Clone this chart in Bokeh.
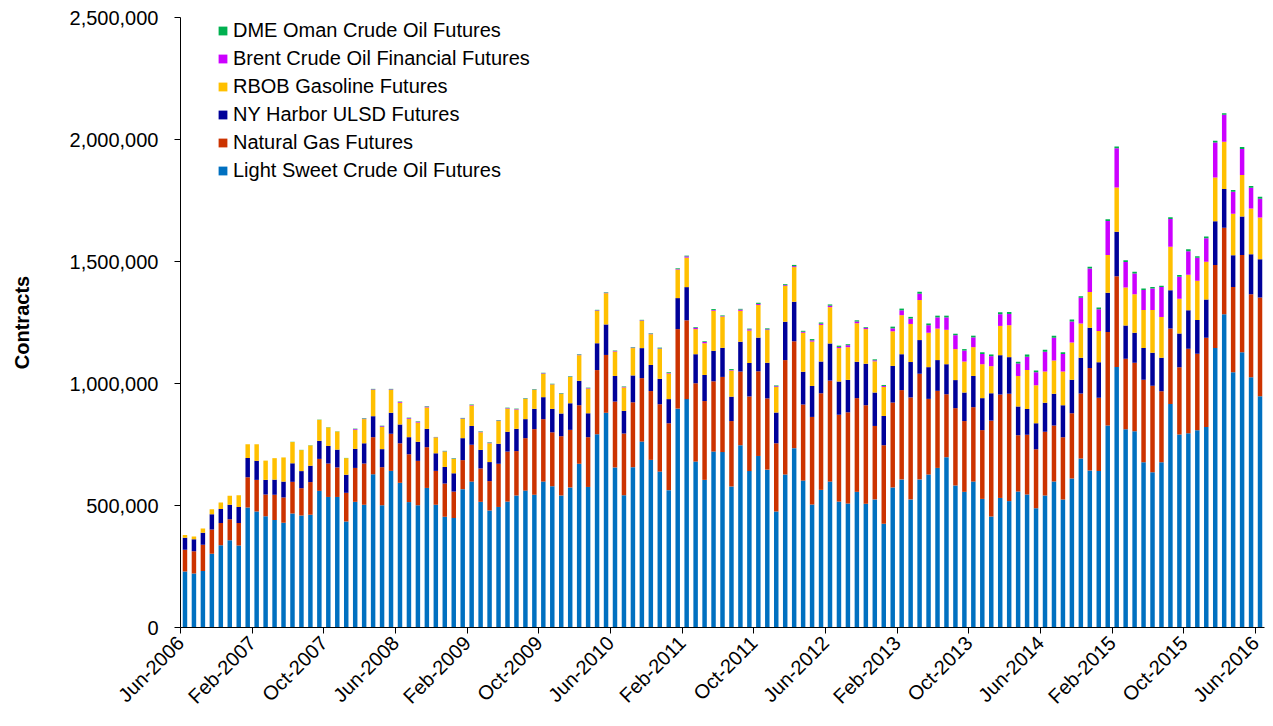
import math
import pandas as pd
from bokeh.plotting import figure
from bokeh.models import (ColumnDataSource, Range1d, FixedTicker, NumeralTickFormatter,
                          Legend, LegendItem)
from bokeh.embed import file_html
from bokeh.resources import INLINE

# ---------------- data (thousands of contracts, monthly Jun-2006 .. Jun-2016) -------------
months = [d.strftime("%b-%Y") for d in pd.date_range("2006-06-01", "2016-06-01", freq="MS")]

tick_labels = ["Jun-2006", "Feb-2007", "Oct-2007", "Jun-2008", "Feb-2009", "Oct-2009",
               "Jun-2010", "Feb-2011", "Oct-2011", "Jun-2012", "Feb-2013", "Oct-2013",
               "Jun-2014", "Feb-2015", "Oct-2015", "Jun-2016"]
y_ticks = [0, 500000, 1000000, 1500000, 2000000, 2500000]

light_sweet = [230, 221, 232, 302, 337, 358, 336, 492, 475, 456, 441, 429, 467, 459, 462, 560,
               535, 535, 434, 515, 503, 628, 501, 642, 593, 514, 501, 572, 503, 454, 449, 567,
               598, 515, 479, 494, 516, 541, 561, 544, 598, 579, 541, 574, 671, 576, 792, 880,
               656, 542, 657, 762, 687, 639, 563, 897, 936, 680, 605, 721, 719, 578, 747, 641,
               703, 647, 475, 627, 735, 602, 504, 564, 598, 516, 508, 556, 507, 525, 425, 574,
               607, 525, 607, 627, 654, 698, 582, 556, 598, 527, 455, 531, 518, 557, 545, 489,
               541, 598, 525, 611, 693, 643, 641, 828, 1068, 812, 804, 677, 636, 677, 916, 791,
               796, 808, 822, 1145, 1284, 1046, 1128, 1026, 948]
natural_gas = [89, 92, 107, 100, 91, 86, 92, 124, 130, 89, 103, 104, 130, 112, 134, 131,
               137, 121, 118, 139, 169, 152, 156, 152, 162, 196, 182, 167, 139, 136, 108, 119,
               151, 137, 121, 177, 205, 182, 215, 269, 256, 221, 243, 236, 240, 204, 263, 237,
               270, 253, 266, 260, 282, 276, 274, 326, 323, 321, 323, 288, 308, 268, 302, 306,
               347, 292, 280, 469, 438, 312, 359, 396, 414, 356, 374, 384, 404, 301, 322, 348,
               366, 418, 433, 310, 316, 258, 317, 290, 305, 282, 393, 424, 440, 231, 245, 242,
               261, 230, 255, 267, 266, 421, 301, 383, 372, 289, 281, 338, 355, 291, 309, 276,
               346, 314, 365, 341, 354, 350, 399, 340, 404]
ny_harbor = [49, 49, 49, 62, 58, 59, 66, 79, 78, 60, 62, 65, 76, 70, 67, 74,
             72, 73, 74, 78, 83, 86, 74, 86, 77, 70, 78, 75, 72, 68, 75, 90,
             77, 76, 78, 82, 81, 91, 78, 83, 90, 96, 93, 109, 100, 98, 110, 125,
             105, 93, 110, 123, 107, 104, 99, 127, 136, 119, 107, 125, 119, 100, 122, 137,
             138, 146, 126, 157, 162, 134, 127, 130, 152, 136, 133, 149, 170, 137, 120, 150,
             147, 145, 138, 130, 126, 123, 115, 117, 128, 131, 112, 161, 150, 118, 106, 106,
             119, 130, 131, 137, 147, 164, 145, 161, 182, 137, 123, 130, 135, 138, 157, 138,
             158, 138, 157, 179, 159, 130, 157, 164, 157]
rbob = [11, 11, 18, 21, 26, 37, 48, 56, 68, 79, 88, 99, 87, 86, 83, 86,
        76, 74, 68, 78, 99, 108, 91, 94, 89, 75, 79, 88, 65, 63, 59, 79,
        84, 72, 77, 93, 95, 79, 83, 78, 96, 100, 81, 108, 105, 101, 133, 128,
        100, 96, 112, 112, 126, 123, 105, 117, 121, 103, 130, 164, 128, 107, 127, 133,
        134, 134, 105, 147, 142, 160, 182, 150, 149, 137, 134, 158, 142, 128, 119, 142,
        160, 156, 164, 141, 129, 141, 127, 127, 118, 139, 111, 120, 131, 125, 159, 156,
        128, 136, 138, 153, 140, 147, 128, 155, 181, 155, 158, 156, 175, 167, 178, 142,
        146, 161, 155, 179, 194, 170, 171, 187, 171]
brent = [0, 0, 0, 0, 0, 0, 0, 0, 0, 0, 0, 0, 0, 0, 0, 0,
         0, 0, 0, 3, 2, 2, 3, 2, 3, 3, 3, 3, 1, 1, 1, 2,
         2, 2, 2, 2, 2, 2, 1, 1, 2, 1, 1, 1, 2, 2, 2, 2,
         2, 2, 2, 2, 2, 2, 2, 2, 5, 5, 5, 3, 2, 2, 5, 5,
         4, 3, 3, 3, 4, 4, 5, 5, 6, 5, 8, 7, 5, 4, 4, 12,
         20, 22, 26, 31, 46, 51, 57, 45, 40, 42, 41, 48, 46, 51, 55, 53,
         81, 94, 72, 86, 105, 96, 89, 139, 161, 105, 85, 82, 88, 122, 114, 91,
         96, 94, 96, 144, 110, 90, 106, 85, 77]
dme_oman = [0, 0, 0, 0, 0, 0, 0, 0, 0, 0, 0, 0, 1, 1, 1, 1,
            1, 1, 1, 2, 2, 2, 2, 2, 2, 2, 2, 2, 1, 2, 2, 2,
            2, 2, 2, 2, 2, 2, 2, 2, 2, 2, 2, 2, 2, 2, 2, 2,
            2, 2, 2, 2, 2, 3, 3, 3, 3, 3, 3, 4, 3, 4, 3, 3,
            5, 4, 3, 4, 5, 4, 5, 5, 5, 5, 4, 5, 3, 4, 4, 7,
            7, 7, 8, 7, 7, 7, 6, 6, 7, 7, 7, 8, 8, 7, 9, 7,
            8, 8, 7, 8, 7, 7, 7, 7, 7, 7, 7, 6, 6, 6, 7, 7,
            8, 7, 7, 7, 7, 7, 8, 7, 8]

series_names = ["Light Sweet Crude Oil Futures", "Natural Gas Futures", "NY Harbor ULSD Futures",
                "RBOB Gasoline Futures", "Brent Crude Oil Financial Futures",
                "DME Oman Crude Oil Futures"]
series_colors = ["#0070C0", "#CC3300", "#000099", "#FFC000", "#CC00FF", "#00B050"]

# ---------------- source -------------
keys = ["ls", "ng", "ho", "rb", "br", "dme"]
raw = [light_sweet, natural_gas, ny_harbor, rbob, brent, dme_oman]
data = {"x": list(range(len(months))), "month": months}
for k, arr in zip(keys, raw):
    data[k] = [v * 1000 for v in arr]
source = ColumnDataSource(data)

FONT = "Liberation Sans"
FS = "20px"

p = figure(width=1265, height=718, output_backend="svg", toolbar_location=None,
           x_range=Range1d(-0.5, len(months) - 0.5), y_range=Range1d(0, 2500000),
           min_border_left=180, min_border_right=1, min_border_top=17, min_border_bottom=88)
p.outline_line_color = None
p.xgrid.visible = False
p.ygrid.visible = False
p.background_fill_color = "white"
p.border_fill_color = "white"

renderers = p.vbar_stack(keys, x="x", width=0.5, source=source,
                         fill_color=series_colors, line_color=None)

# ---------------- axes -------------
tick_pos = [months.index(t) - 0.5 for t in tick_labels]
p.xaxis.ticker = FixedTicker(ticks=tick_pos)
p.xaxis.major_label_overrides = {tp: lbl for tp, lbl in zip(tick_pos, tick_labels)}
p.xaxis.major_label_orientation = math.pi / 4
p.xaxis.minor_tick_line_color = None
p.xaxis.major_tick_in = 0
p.xaxis.major_tick_out = 6
p.xaxis.major_label_standoff = 6

p.yaxis.ticker = FixedTicker(ticks=y_ticks)
p.yaxis.formatter = NumeralTickFormatter(format="0,0")
p.yaxis.minor_tick_line_color = None
p.yaxis.major_tick_in = 0
p.yaxis.major_tick_out = 6
p.yaxis.major_label_standoff = 16
p.yaxis.axis_label = "Contracts"
p.yaxis.axis_label_standoff = 34
p.yaxis.axis_label_text_font_style = "bold"

for ax in (p.xaxis[0], p.yaxis[0]):
    ax.axis_line_color = "black"
    ax.axis_line_width = 1
    ax.major_tick_line_color = "black"
    ax.major_label_text_font = FONT
    ax.major_label_text_font_size = FS
    ax.major_label_text_color = "black"
    ax.axis_label_text_font = FONT
    ax.axis_label_text_font_size = FS
    ax.axis_label_text_color = "black"

# ---------------- legend -------------
items = [LegendItem(label=n, renderers=[r]) for n, r in zip(series_names, renderers)][::-1]
legend = Legend(items=items, location=(37, 445), orientation="vertical",
                border_line_color=None, background_fill_alpha=0, padding=0, margin=0,
                spacing=4, label_height=24, glyph_height=11, glyph_width=11,
                label_standoff=5, label_text_font=FONT, label_text_font_size=FS,
                label_text_color="black")
p.add_layout(legend, "center")

open("out.html", "w").write(file_html(p, INLINE))
